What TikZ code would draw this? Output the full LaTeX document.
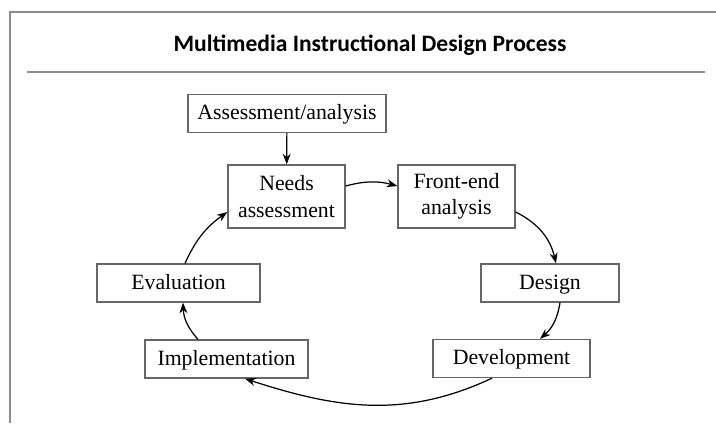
\documentclass[tikz,border=0pt]{standalone}
\usepackage{fontspec}
\setmainfont{Liberation Serif}
\newfontfamily\titlefont{Carlito}
\usetikzlibrary{arrows.meta}

\begin{document}
\begin{tikzpicture}[x=0.02cm,y=-0.02cm]
		\useasboundingbox (0,0) rectangle (716,423);
		% frame and heading
		\draw[black!45,line width=0.8pt] (10,423) -- (10,12) -- (716,12);
		\node (title) at (370,45) {\titlefont\bfseries\fontsize{13.4}{16}\selectfont Multimedia Instructional Design Process};
		\draw[black!45,line width=0.8pt] (27,72) -- (705,72);

		\begin{scope}[every node/.style={draw=black!60,line width=0.8pt,inner sep=0pt,align=center,
				font=\fontsize{12.4}{15}\selectfont,minimum height=0.76cm},
				oneline/.style={text height=1.9ex,text depth=0.3ex}]
			\node[oneline,minimum width=3.96cm] (AA) at (287,113.5) {Assessment/analysis};
			\node[minimum width=2.34cm,minimum height=1.26cm] (NA) at (286.5,196.5) {Needs\\assessment};
			\node[minimum width=2.34cm,minimum height=1.26cm] (FE) at (456.5,196.5) {Front-end\\analysis};
			\node[oneline,minimum width=2.76cm] (DS) at (550,283) {Design};
			\node[oneline,minimum width=3.14cm] (DV) at (511.5,358.5) {Development};
			\node[oneline,minimum width=3.26cm] (IM) at (226.5,359) {Implementation};
			\node[oneline,minimum width=3.26cm] (EV) at (178.5,283) {Evaluation};
		\end{scope}

		\begin{scope}[>={Stealth[length=6pt,width=4.5pt]},line width=0.7pt]
			\draw[->] (AA) -- (NA);
			\draw[->] (NA.east |- 0,186) to[bend left=15] (FE.west |- 0,186);
			\draw[->] (FE.east |- 0,212) to[bend left=25] (DS.north -| 556,0);
			\draw[->] (DS.south -| 560,0) to[bend left=20] (DV.north -| 540,0);
			\draw[->] (DV.south -| 492,0) to[out=205,in=-18] (IM.south -| 245,0);
			\draw[->] (IM.north -| 198,0) to[bend left=20] (EV.south -| 183,0);
			\draw[->] (EV.north -| 185,0) to[bend left=15] (NA.west |- 0,212);
		\end{scope}
\end{tikzpicture}
\end{document}
